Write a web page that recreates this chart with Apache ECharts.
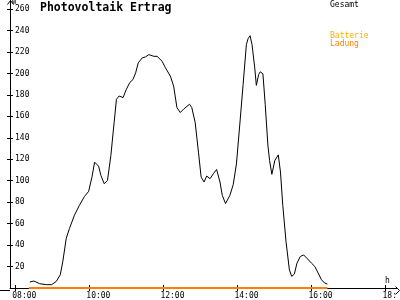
<!DOCTYPE html>
<html>
<head>
<meta charset="utf-8">
<script src="https://cdn.jsdelivr.net/npm/echarts@6/dist/echarts.min.js"></script>
<style>html,body{margin:0;padding:0;background:#fff}#c{width:400px;height:300px}</style>
</head>
<body>
<div id="c"></div>
<script>
// time of day in hours
const times = [8.394,8.501,8.662,8.849,8.983,9.109,9.216,9.286,9.377,9.465,9.599,9.733,9.867,9.982,10.073,10.143,10.25,10.314,10.403,10.491,10.582,10.671,10.732,10.805,10.912,11.0,11.091,11.18,11.252,11.322,11.429,11.52,11.608,11.742,11.831,11.965,12.056,12.19,12.278,12.366,12.457,12.546,12.707,12.768,12.859,12.948,13.02,13.1,13.17,13.261,13.35,13.438,13.529,13.591,13.679,13.797,13.886,13.974,14.065,14.154,14.242,14.288,14.342,14.395,14.468,14.511,14.575,14.617,14.689,14.751,14.823,14.869,14.93,15.01,15.104,15.163,15.225,15.313,15.404,15.466,15.538,15.608,15.699,15.788,15.895,16.002,16.09,16.181,16.27,16.358,16.43];
// Gesamt power in W
const power = [5.6,6.5,4.0,3.1,3.1,6.2,12.3,25,46.3,55.6,67.9,77.1,85.2,90.1,103.7,117.3,113.6,104.9,97.2,100.3,123.4,154.4,175.9,179,177.5,185.2,191.4,194.4,200.6,209.9,214.5,215.5,217.6,216,216,211.4,205.3,197.5,188.2,168.2,163.6,166.7,171.3,168.2,154.4,126.6,103.4,98.8,104.4,101.9,106.5,110.5,98.8,86.4,78.7,86.4,96.3,115.7,152.8,189.8,226.9,232.4,235.2,226.9,205.3,188.9,199.1,201.6,199.7,171.3,133.3,118.8,106,118.8,124.1,108.1,77.1,43.2,16.9,10.8,13,23.1,29.4,30.8,27.1,23.1,20.1,13.9,7.7,4.6,3.7];
// Batterie Ladung
const chargeTimes = [8.367, 16.43];
const chargeValues = [0, 0];
const xTicks = [8, 10, 12, 14, 16, 18];
const xTickLabels = ['08:00', '10:00', '12:00', '14:00', '16:00', '18:'];
const yTicks = [20, 40, 60, 80, 100, 120, 140, 160, 180, 200, 220, 240, 260];

const xMin = 7.858, xMax = 18.305, labelShift = -0.08;
const yMin = 0, yMax = 268.5;
const mono = '"DejaVu Sans Mono", monospace';

const chart = echarts.init(document.getElementById('c'), null, {renderer: 'canvas'});
const baseX = {type: 'value', min: xMin, max: xMax, position: 'bottom', splitLine: {show: false}, axisLabel: {show: false}, axisLine: {show: false, onZero: false}};
const baseY = {type: 'value', min: yMin, max: yMax, position: 'left', splitLine: {show: false}, axisLabel: {show: false}, axisLine: {show: false, onZero: false}};
chart.setOption({
  animation: false,
  backgroundColor: '#fff',
  title: {text: 'Photovoltaik Ertrag', left: 40, top: 2, padding: 0,
    textStyle: {fontFamily: mono, fontWeight: 'bold', fontSize: 11.5, color: '#000'}},
  grid: {left: 10, right: 0, top: 0, bottom: 10, containLabel: false},
  xAxis: [
    Object.assign({}, baseX, {axisLine: {show: true, onZero: false, lineStyle: {color: '#000', width: 1}},
      axisTick: {show: true, inside: false, length: 3, customValues: xTicks, lineStyle: {color: '#000'}}}),
    Object.assign({}, baseX, {axisTick: {show: true, inside: true, length: 3, customValues: xTicks, lineStyle: {color: '#000'}}}),
    Object.assign({}, baseX, {min: xMin - labelShift, max: xMax - labelShift, axisTick: {show: false},
      axisLabel: {show: true, customValues: xTicks, margin: 4, hideOverlap: false, align: 'left',
        alignMinLabel: 'left', alignMaxLabel: 'left', color: '#000', fontFamily: mono, fontSize: 8,
        formatter: v => xTickLabels[xTicks.indexOf(v)]}})
  ],
  yAxis: [
    Object.assign({}, baseY, {axisLine: {show: true, onZero: false, lineStyle: {color: '#000', width: 1}},
      axisTick: {show: true, inside: false, length: 3, customValues: yTicks, lineStyle: {color: '#000'}},
      axisLabel: {show: true, inside: true, margin: 5, customValues: yTicks, color: '#000', fontFamily: mono, fontSize: 8}}),
    Object.assign({}, baseY, {axisTick: {show: true, inside: true, length: 3, customValues: yTicks, lineStyle: {color: '#000'}}})
  ],
  series: [
    {name: 'Gesamt', type: 'line', xAxisIndex: 0, yAxisIndex: 0, data: times.map((t, i) => [t, power[i]]),
      showSymbol: false, symbol: 'none', smooth: false, clip: false, lineStyle: {color: '#000', width: 1}, z: 3},
    {name: 'Batterie Ladung', type: 'line', xAxisIndex: 0, yAxisIndex: 0, data: chargeTimes.map((t, i) => [t, chargeValues[i]]),
      showSymbol: false, symbol: 'none', clip: false, lineStyle: {color: '#ff8000', width: 2}, z: 4}
  ],
  graphic: [
    {type: 'line', shape: {x1: 0, y1: 290.5, x2: 10, y2: 290.5}, style: {stroke: '#000', lineWidth: 1}},
    {type: 'polyline', shape: {points: [[7.5, 4.5], [10.5, 0.5], [13.5, 4.5]]}, style: {stroke: '#000', fill: null, lineWidth: 1}},
    {type: 'polyline', shape: {points: [[395.5, 286.5], [399.5, 290.5], [395.5, 294.5]]}, style: {stroke: '#000', fill: null, lineWidth: 1}},
    {type: 'text', left: 12, top: -1, style: {text: 'W', fontFamily: mono, fontSize: 7, fill: '#000'}},
    {type: 'text', left: 385, top: 277, style: {text: 'h', fontFamily: mono, fontSize: 8, fill: '#000'}},
    {type: 'text', left: 330, top: 1, style: {text: 'Gesamt', fontFamily: mono, fontSize: 8, fill: '#000'}},
    {type: 'text', left: 330, top: 32, style: {text: 'Batterie', fontFamily: mono, fontSize: 8, fill: '#ffb000'}},
    {type: 'text', left: 330, top: 40, style: {text: 'Ladung', fontFamily: mono, fontSize: 8, fill: '#ff8000'}}
  ]
});
</script>
</body>
</html>
